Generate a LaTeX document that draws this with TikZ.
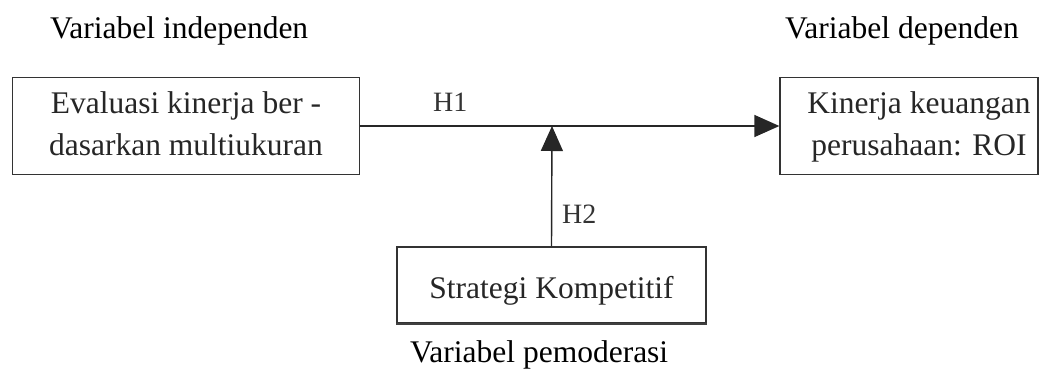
\documentclass[tikz,border=0pt]{standalone}
\usepackage{fontspec}
\setmainfont{Liberation Serif}
\usetikzlibrary{arrows.meta}
% two centred lines, lifted a little inside their box
\newcommand{\pairlines}[3][0pt]{\raisebox{5pt}{\begin{tabular}{@{}c@{}}\hspace*{#1}#2\\\hspace*{#1}#3\end{tabular}}}
\begin{document}
\begin{tikzpicture}[x=1pt,y=-1pt,
  varbox/.style={draw=black!80, line width=1.3pt, inner sep=0pt,
    text=black!85, font=\fontsize{31.5}{42}\selectfont},
  heading/.style={inner sep=0pt, anchor=base west, font=\fontsize{31.5}{38}\selectfont},
  hlabel/.style={inner sep=0pt, anchor=base west, text=black!80, font=\fontsize{28}{34}\selectfont},
  link/.style={line width=1.4pt, draw=black!85, -{Triangle[length=25pt,width=22pt]}}]
\useasboundingbox (0,0) rectangle (1041,376);

% group headings
\node[heading] (hi) at (50,38) {Variabel independen};
\node[heading] (hd) at (785,38) {Variabel dependen};

% variables
\node[varbox, minimum width=347pt, minimum height=97pt] (ind) at (186,126)
  {\pairlines{Evaluasi kinerja ber -}{dasarkan multiukuran}};
\node[varbox, minimum width=258pt, minimum height=97pt] (dep) at (909,126)
  {\pairlines[20pt]{Kinerja keuangan}{perusahaan: ROI}};
\node[varbox, text height=33pt, text depth=7pt, minimum width=309pt, minimum height=76pt] (mod) at (551.5,285)
  {Strategi Kompetitif};
\draw[line width=2pt, black!75] (mod.south west) -- (mod.south east);
\node[heading] (hm) at (410,362) {Variabel pemoderasi};

% hypothesised relations
\coordinate (m) at (552,126);
\draw[link] (ind.east) -- (dep.west);
\draw[link] (mod.north) -- (m);
\node[hlabel] (h1) at (433,111) {H1};
\node[hlabel] (h2) at (562,223) {H2};
\end{tikzpicture}
\end{document}
